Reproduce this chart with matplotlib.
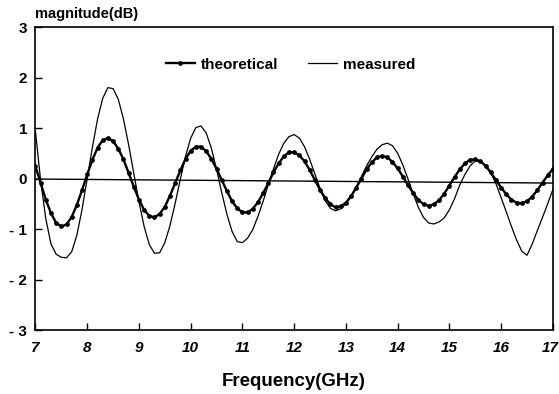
import matplotlib
matplotlib.use("Agg")
import matplotlib.pyplot as plt
import matplotlib.transforms as mtransforms
import numpy as np

plt.rcParams['font.family'] = ['Liberation Sans', 'DejaVu Sans']
plt.rcParams['font.weight'] = 'bold'

# frequency grid (GHz), 0.1 GHz step
freq = np.round(np.arange(7.0, 17.01, 0.1), 2)

theoretical = [
    0.24, -0.09, -0.42, -0.69, -0.88, -0.95, -0.91, -0.76, -0.52, -0.23,
    0.08, 0.37, 0.61, 0.76, 0.80, 0.74, 0.59, 0.38, 0.11, -0.16,
    -0.42, -0.62, -0.74, -0.77, -0.70, -0.56, -0.34, -0.09, 0.16, 0.39,
    0.55, 0.63, 0.63, 0.54, 0.39, 0.19, -0.03, -0.25, -0.45, -0.59,
    -0.67, -0.67, -0.60, -0.47, -0.29, -0.09, 0.12, 0.30, 0.44, 0.52,
    0.52, 0.46, 0.34, 0.17, -0.03, -0.22, -0.39, -0.51, -0.57, -0.55,
    -0.48, -0.35, -0.18, 0.00, 0.18, 0.32, 0.42, 0.45, 0.42, 0.33,
    0.20, 0.04, -0.13, -0.29, -0.42, -0.51, -0.54, -0.51, -0.43, -0.30,
    -0.14, 0.03, 0.18, 0.30, 0.37, 0.38, 0.34, 0.25, 0.12, -0.03,
    -0.18, -0.31, -0.42, -0.48, -0.49, -0.45, -0.36, -0.23, -0.08, 0.06,
    0.19,
]

measured = [
    0.93, -0.05, -0.80, -1.30, -1.50, -1.56, -1.57, -1.45, -1.12, -0.61,
    0.00, 0.62, 1.18, 1.59, 1.80, 1.78, 1.57, 1.18, 0.67, 0.10,
    -0.46, -0.95, -1.31, -1.48, -1.47, -1.27, -0.93, -0.49, -0.01, 0.44,
    0.80, 1.01, 1.04, 0.90, 0.60, 0.18, -0.28, -0.71, -1.05, -1.25,
    -1.27, -1.18, -1.01, -0.75, -0.45, -0.12, 0.19, 0.48, 0.70, 0.83,
    0.87, 0.80, 0.63, 0.38, 0.09, -0.20, -0.44, -0.59, -0.64, -0.60,
    -0.50, -0.35, -0.17, 0.04, 0.25, 0.43, 0.58, 0.67, 0.70, 0.65,
    0.50, 0.27, -0.01, -0.30, -0.57, -0.77, -0.88, -0.90, -0.86, -0.78,
    -0.62, -0.40, -0.13, 0.08, 0.25, 0.35, 0.34, 0.26, 0.11, -0.10,
    -0.38, -0.66, -0.95, -1.22, -1.44, -1.52, -1.30, -1.03, -0.77, -0.50,
    -0.22,
]

# reference (zero) line, slightly sloped in the original
base_x = [7, 17]
base_y = [-0.01, -0.09]

fig = plt.figure(figsize=(5.59, 3.94), dpi=100)
ax = fig.add_axes([0.0635, 0.1624, 0.9255, 0.769])

ax.plot(base_x, base_y, color='black', lw=1.0)
ax.plot(freq, theoretical, color='black', lw=1.7, marker='o', ms=2.4,
        label='theoretical')
ax.plot(freq, measured, color='black', lw=0.9, label='measured')

ax.set_xlim(7, 17)
ax.set_ylim(-3, 3)
ax.set_xticks(range(7, 18))
ax.set_yticks(range(-3, 4))
ax.set_yticklabels(['- 3', '- 2', '- 1', '0', '1', '2', '3'])
ax.tick_params(direction='in', length=5, width=1, labelsize=11)
for lab in ax.get_xticklabels():
    lab.set_fontstyle('italic')
    lab.set_fontweight('bold')
for lab in ax.get_yticklabels():
    lab.set_fontweight('bold')
ax.tick_params(axis='x', pad=8)
ax.tick_params(axis='y', pad=6)

# last x label sits a touch left so it stays inside the canvas
last = ax.get_xticklabels()[-1]
last.set_transform(last.get_transform() +
                   mtransforms.ScaledTranslation(-3 / 100, 0, fig.dpi_scale_trans))

for s in ax.spines.values():
    s.set_linewidth(1.2)

ax.set_xlabel('Frequency(GHz)', fontsize=13.5, fontweight='bold', labelpad=13)
fig.text(0.063, 0.947, 'magnitude(dB)', fontsize=10.5, fontweight='bold',
         ha='left', va='bottom')

leg = ax.legend(loc='upper center', bbox_to_anchor=(0.493, 0.944), ncol=2,
                frameon=False, fontsize=11, handlelength=1.9,
                columnspacing=1.9, handletextpad=0.4)
leg.legend_handles[0].set_markevery([1])

fig.savefig('out.png', dpi=100)
